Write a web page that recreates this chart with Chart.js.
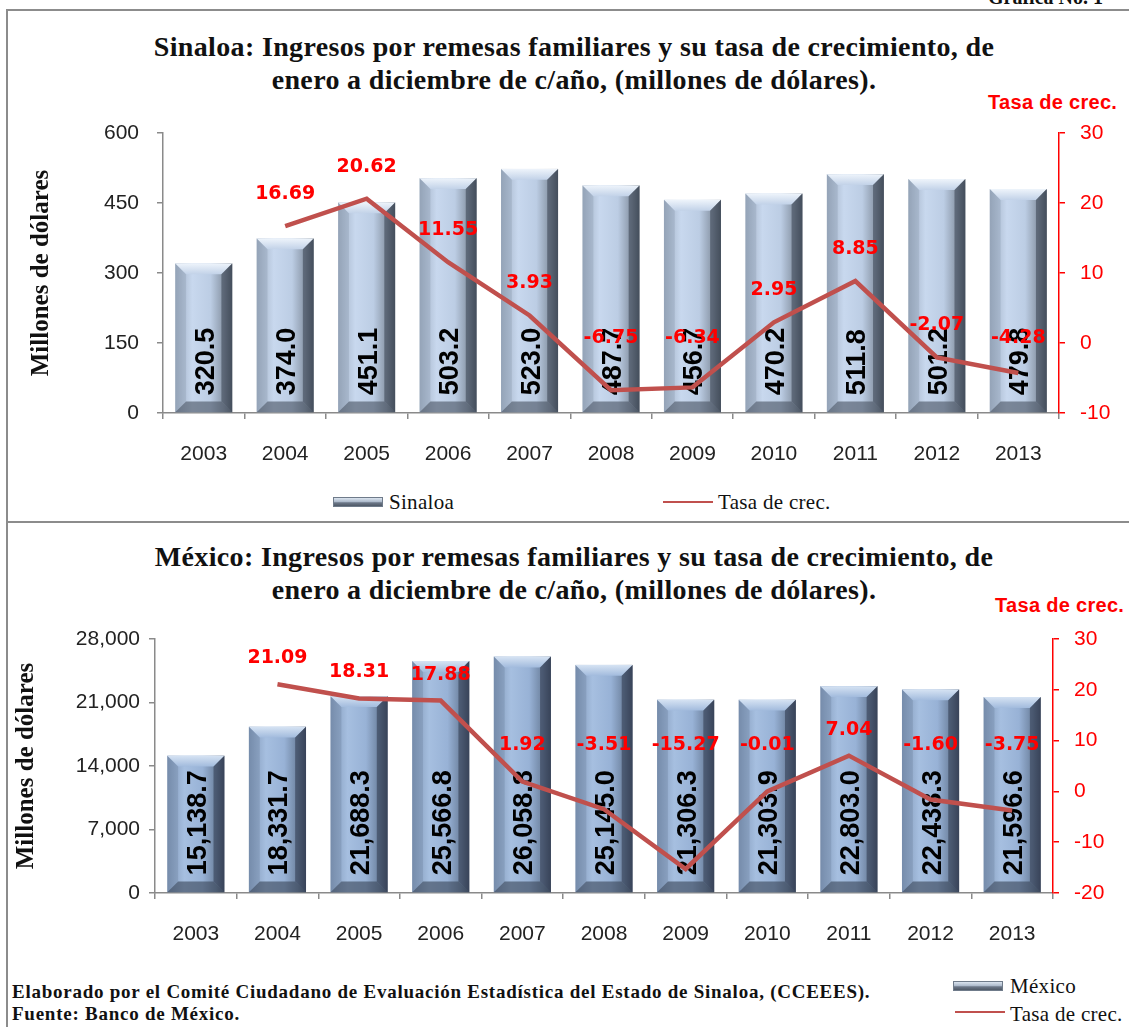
<!DOCTYPE html>
<html>
<head>
<meta charset="utf-8">
<script src="https://cdn.jsdelivr.net/npm/chart.js@4.4.1/dist/chart.umd.min.js"></script>
<style>
  body { margin: 0; background: #fff; }
  #page { position: relative; width: 1129px; height: 1027px; overflow: hidden; background: #fff; font-family: "Liberation Serif", serif; color: #111; }
  .rule { position: absolute; background: #8c8c8c; }
  .title { position: absolute; left: 0; width: 1148px; text-align: center; font-weight: bold; font-size: 28px; letter-spacing: 0.35px; line-height: 33px; }
  .axis-red { position: absolute; color: #ff0000; font: bold 20px "Liberation Sans", sans-serif; letter-spacing: 0.3px; white-space: nowrap; }
  .legend { position: absolute; font-size: 21px; letter-spacing: 0.3px; white-space: nowrap; line-height: 22px; }
  .sw-bar { position: absolute; width: 50px; height: 10px; background: linear-gradient(#dbe4ef, #aebbcc 45%, #6c7888 60%, #4f5967); border: 1px solid #6f7b8a; box-sizing: border-box; }
  .sw-line { position: absolute; width: 50px; height: 2px; background: #c0504d; }
  .box { position: absolute; left: 0; }
  .footer { position: absolute; left: 12px; top: 981px; font-weight: bold; font-size: 19px; letter-spacing: 0.75px; line-height: 22px; white-space: nowrap; }
</style>
</head>
<body>
<div id="page">
  <div style="position:absolute;left:988px;top:-14px;font:bold 20px 'Liberation Serif',serif;white-space:nowrap;">Gráfica No. 1</div>
  <div class="rule" style="left:6px;top:9px;width:1123px;height:2px;"></div>
  <div class="rule" style="left:6px;top:9px;width:2px;height:1018px;"></div>
  <div class="rule" style="left:6px;top:521px;width:1123px;height:2px;"></div>

  <div class="title" style="top:30px;">Sinaloa: Ingresos por remesas familiares y su tasa de crecimiento, de<br>enero a diciembre de c/año, (millones de dólares).</div>
  <div class="axis-red" style="left:988px;top:91px;">Tasa de crec.</div>
  <div class="box" style="top:110px;"><canvas id="chartSinaloa" width="1129" height="370"></canvas></div>
  <div class="sw-bar" style="left:333px;top:497px;"></div>
  <div class="legend" style="left:389px;top:491px;">Sinaloa</div>
  <div class="sw-line" style="left:663px;top:501px;"></div>
  <div class="legend" style="left:718px;top:491px;">Tasa de crec.</div>

  <div class="title" style="top:540px;">México: Ingresos por remesas familiares y su tasa de crecimiento, de<br>enero a diciembre de c/año, (millones de dólares).</div>
  <div class="axis-red" style="left:995px;top:594px;">Tasa de crec.</div>
  <div class="box" style="top:620px;"><canvas id="chartMexico" width="1129" height="340"></canvas></div>
  <div class="footer">Elaborado por el Comité Ciudadano de Evaluación Estadística del Estado de Sinaloa, (CCEEES).<br>Fuente: Banco de México.</div>
  <div class="sw-bar" style="left:953px;top:981px;"></div>
  <div class="legend" style="left:1010px;top:975px;">México</div>
  <div class="sw-line" style="left:955px;top:1011px;"></div>
  <div class="legend" style="left:1010px;top:1003px;">Tasa de crec.</div>
</div>

<script>
// datos
const years = ['2003', '2004', '2005', '2006', '2007', '2008', '2009', '2010', '2011', '2012', '2013'];

const sinaloaRemesas = [320.5, 374.0, 451.1, 503.2, 523.0, 487.7, 456.7, 470.2, 511.8, 501.2, 479.8];
const sinaloaTasa = [null, 16.69, 20.62, 11.55, 3.93, -6.75, -6.34, 2.95, 8.85, -2.07, -4.28];
const sinaloaTicks = [0, 150, 300, 450, 600];
const sinaloaTasaTicks = [-10, 0, 10, 20, 30];

const mexicoRemesas = [15138.7, 18331.7, 21688.3, 25566.8, 26058.8, 25145.0, 21306.3, 21303.9, 22803.0, 22438.3, 21596.6];
const mexicoTasa = [null, 21.09, 18.31, 17.88, 1.92, -3.51, -15.27, -0.01, 7.04, -1.60, -3.75];
const mexicoTicks = [0, 7000, 14000, 21000, 28000];
const mexicoTasaTicks = [-20, -10, 0, 10, 20, 30];

const fmt1 = v => v.toLocaleString('en-US', { minimumFractionDigits: 1, maximumFractionDigits: 1 });
const fmtInt = v => v.toLocaleString('en-US');

// barras con bisel (estilo Excel)
const bevelPlugin = {
  id: 'bevel',
  afterDatasetDraw(chart, args, opts) {
    if (args.index !== 0) return;
    const ctx = chart.ctx;
    const c = opts.colors;
    ctx.save();
    args.meta.data.forEach((bar, i) => {
      const x0 = bar.x - bar.width / 2, x1 = bar.x + bar.width / 2;
      const top = bar.y, base = bar.base, w = x1 - x0;
      const b = Math.min(w * 0.19, (base - top) / 2);

      let g = ctx.createLinearGradient(x0, 0, x1, 0);
      g.addColorStop(0, c.edgeL);
      g.addColorStop(0.3, c.light);
      g.addColorStop(0.62, c.mid);
      g.addColorStop(0.85, c.dark);
      g.addColorStop(1, c.edgeR);
      ctx.fillStyle = g;
      ctx.fillRect(x0, top, w, base - top);

      // arriba
      g = ctx.createLinearGradient(0, top, 0, top + b);
      g.addColorStop(0, c.topHi);
      g.addColorStop(1, c.topLo);
      ctx.fillStyle = g;
      ctx.beginPath();
      ctx.moveTo(x0, top); ctx.lineTo(x1, top); ctx.lineTo(x1 - b, top + b); ctx.lineTo(x0 + b, top + b);
      ctx.closePath(); ctx.fill();

      // lado derecho
      ctx.fillStyle = c.side;
      ctx.beginPath();
      ctx.moveTo(x1, top); ctx.lineTo(x1, base); ctx.lineTo(x1 - b, base - b); ctx.lineTo(x1 - b, top + b);
      ctx.closePath(); ctx.fill();

      // lado izquierdo
      ctx.fillStyle = c.sideL;
      ctx.beginPath();
      ctx.moveTo(x0, top); ctx.lineTo(x0, base); ctx.lineTo(x0 + b, base - b); ctx.lineTo(x0 + b, top + b);
      ctx.closePath(); ctx.fill();

      // abajo
      ctx.fillStyle = c.bottom;
      ctx.beginPath();
      ctx.moveTo(x0, base); ctx.lineTo(x1, base); ctx.lineTo(x1 - b, base - b); ctx.lineTo(x0 + b, base - b);
      ctx.closePath(); ctx.fill();

      // etiqueta vertical
      ctx.save();
      ctx.translate(bar.x, base - 17);
      ctx.rotate(-Math.PI / 2);
      ctx.font = 'bold 27px "Liberation Sans", Arial, sans-serif';
      ctx.fillStyle = '#000';
      ctx.textAlign = 'left';
      ctx.textBaseline = 'alphabetic';
      ctx.fillText(opts.format(chart.data.datasets[0].data[i]), 0, 10);
      ctx.restore();
    });
    ctx.restore();
  },
  afterDatasetsDraw(chart, args, opts) {
    const ctx = chart.ctx;
    const meta = chart.getDatasetMeta(1);
    const data = chart.data.datasets[1].data;
    ctx.save();
    ctx.font = 'bold 19px "DejaVu Sans", sans-serif';
    ctx.fillStyle = '#ff0000';
    ctx.textAlign = 'center';
    ctx.textBaseline = 'middle';
    meta.data.forEach((pt, i) => {
      if (data[i] == null) return;
      const y = Math.min(pt.y - opts.offset, chart.chartArea.top + opts.floor);
      ctx.fillText(data[i].toFixed(2), pt.x, y);
    });
    ctx.restore();
  }
};

function makeChart(id, bars, rates, ticks, rateTicks, L) {
  const H = document.getElementById(id).height;
  return new Chart(document.getElementById(id), {
    type: 'bar',
    data: {
      labels: years,
      datasets: [{
        type: 'bar',
        data: bars,
        backgroundColor: 'rgba(0,0,0,0)',
        barPercentage: 0.7,
        categoryPercentage: 1,
        yAxisID: 'y',
        order: 2
      }, {
        type: 'line',
        data: rates,
        borderColor: '#c0504d',
        borderWidth: 4.5,
        pointRadius: 0,
        tension: 0,
        yAxisID: 'y1',
        order: 1
      }]
    },
    options: {
      responsive: false,
      animation: false,
      layout: { padding: { top: L.top, bottom: 0, left: 0, right: 0 } },
      plugins: {
        legend: { display: false },
        tooltip: { enabled: false },
        bevel: { colors: L.colors, format: L.format, offset: L.labelOffset, floor: L.labelFloor }
      },
      scales: {
        x: {
          afterFit: s => { s.height = H - L.bottom; },
          grid: { drawOnChartArea: false, drawTicks: true, tickLength: 6, color: '#8a8a8a', lineWidth: 1.5 },
          border: { color: '#8a8a8a', width: 1.5 },
          ticks: { color: '#222', font: { family: 'Liberation Sans', size: 21 }, padding: 23, maxRotation: 0, autoSkip: false }
        },
        y: {
          position: 'left',
          min: ticks[0],
          max: ticks[ticks.length - 1],
          afterFit: s => { s.width = L.left; s.paddingTop = 0; s.paddingBottom = 0; },
          afterBuildTicks: s => { s.ticks = ticks.map(v => ({ value: v })); },
          grid: { drawOnChartArea: false, drawTicks: true, tickLength: 6, color: '#8a8a8a', lineWidth: 1.5 },
          border: { color: '#8a8a8a', width: 1.5 },
          ticks: { color: '#222', font: { family: 'Liberation Sans', size: 21 }, padding: L.leftPad, callback: v => fmtInt(v) },
          title: {
            display: true,
            text: 'Millones de dólares',
            color: '#111',
            font: { family: 'Liberation Serif', size: 25, weight: 'bold' },
            padding: { top: L.titlePad, bottom: 0 }
          }
        },
        y1: {
          position: 'right',
          min: rateTicks[0],
          max: rateTicks[rateTicks.length - 1],
          afterFit: s => { s.width = 1129 - L.right; s.paddingTop = 0; s.paddingBottom = 0; },
          afterBuildTicks: s => { s.ticks = rateTicks.map(v => ({ value: v })); },
          grid: { drawOnChartArea: false, drawTicks: true, tickLength: 6, color: '#ff0000', lineWidth: 1.5 },
          border: { color: '#ff0000', width: 1.5 },
          ticks: { color: '#ff0000', font: { family: 'Liberation Sans', size: 21 }, padding: 15 }
        }
      }
    },
    plugins: [bevelPlugin]
  });
}

makeChart('chartSinaloa', sinaloaRemesas, sinaloaTasa, sinaloaTicks, sinaloaTasaTicks, {
  top: 23, bottom: 303, left: 163, right: 1059, leftPad: 18, titlePad: 27,
  labelOffset: 32, labelFloor: 205, format: fmt1,
  colors: {
    edgeL: '#9eadc1', light: '#c8d8ee', mid: '#bccde4', dark: '#8996a7', edgeR: '#55606d',
    topHi: '#eef4fb', topLo: '#c2d2e8', side: 'rgba(55,64,78,0.55)', sideL: 'rgba(120,135,155,0.25)', bottom: 'rgba(70,80,95,0.6)'
  }
});

makeChart('chartMexico', mexicoRemesas, mexicoTasa, mexicoTicks, mexicoTasaTicks, {
  top: 19, bottom: 273, left: 155, right: 1053, leftPad: 9, titlePad: 12,
  labelOffset: 26, labelFloor: 106, format: fmt1,
  colors: {
    edgeL: '#7f96b6', light: '#a6bfe0', mid: '#98b2d6', dark: '#6e83a0', edgeR: '#46536a',
    topHi: '#d6e3f3', topLo: '#a2bbdd', side: 'rgba(45,55,75,0.55)', sideL: 'rgba(90,110,140,0.25)', bottom: 'rgba(55,66,85,0.6)'
  }
});
</script>
</body>
</html>
